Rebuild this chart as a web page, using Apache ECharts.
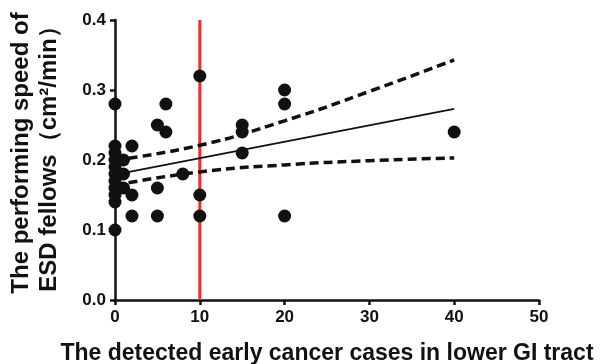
<!DOCTYPE html>
<html>
<head>
<meta charset="utf-8">
<script src="https://cdn.jsdelivr.net/npm/echarts@6/dist/echarts.min.js"></script>
<style>
  html, body { margin: 0; padding: 0; background: #fff; }
  #chart { width: 600px; height: 364px; }
</style>
</head>
<body>
<div id="chart"></div>
<script>
// detected early cancer cases (x) vs performing speed (y)
var casesX = [0, 0, 0, 0, 0, 0, 0, 0, 0, 0, 0,
              1, 1, 1, 2, 2, 2, 5, 5, 5, 6, 6, 8,
              10, 10, 10, 15, 15, 15, 20, 20, 20, 40];
var speedY = [0.28, 0.22, 0.21, 0.20, 0.19, 0.18, 0.17, 0.16, 0.15, 0.14, 0.10,
              0.20, 0.18, 0.16, 0.22, 0.15, 0.12, 0.25, 0.16, 0.12, 0.28, 0.24, 0.18,
              0.32, 0.15, 0.12, 0.25, 0.24, 0.21, 0.30, 0.28, 0.12, 0.24];

// regression fit and 95% confidence band
var fitX = [0, 40];
var fitY = [0.179, 0.273];
var bandX = [0, 10, 20, 30, 40];
var upperY = [0.200, 0.221, 0.256, 0.298, 0.343];
var lowerY = [0.164, 0.183, 0.193, 0.199, 0.203];

// cutoff line
var cutX = 10;
var cutY = [0, 0.4];

function pairs(xs, ys) {
    return xs.map(function (x, i) { return [x, ys[i]]; });
}

var font = 'Arial, "Liberation Sans", sans-serif';
var chart = echarts.init(document.getElementById('chart'));

var option = {
    animation: false,
    grid: { left: 115, right: 61, top: 20, bottom: 64, containLabel: false, outerBoundsMode: 'none' },
    xAxis: {
        type: 'value',
        min: 0, max: 50, interval: 10,
        name: 'The detected early cancer cases in lower GI tract',
        nameLocation: 'middle',
        nameGap: 42,
        nameTextStyle: { color: '#111', fontSize: 23, fontWeight: 'bold', fontFamily: font },
        axisLine: { lineStyle: { color: '#111', width: 2.5 } },
        axisTick: { length: 5, lineStyle: { color: '#111', width: 2.5 } },
        axisLabel: { color: '#111', fontSize: 17, fontWeight: 'bold', fontFamily: font, margin: 9 },
        splitLine: { show: false }
    },
    yAxis: {
        type: 'value',
        min: 0, max: 0.4, interval: 0.1,
        name: 'The performing speed of\nESD fellows（cm²/min）',
        nameLocation: 'middle',
        nameGap: 52,
        nameTextStyle: {
            color: '#111', fontSize: 24, fontWeight: 'bold', fontFamily: font, lineHeight: 28,
            padding: [0, 0, 0, 14]
        },
        axisLine: { show: true, lineStyle: { color: '#111', width: 2.5 } },
        axisTick: { show: true, length: 5, lineStyle: { color: '#111', width: 2.5 } },
        axisLabel: {
            color: '#111', fontSize: 17, fontWeight: 'bold', fontFamily: font, margin: 9,
            formatter: function (v) { return v.toFixed(1); }
        },
        splitLine: { show: false }
    },
    series: [
        {
            type: 'line',
            data: pairs([cutX, cutX], cutY),
            symbol: 'none',
            lineStyle: { color: '#e8302c', width: 3 },
            z: 1
        },
        {
            type: 'line',
            data: pairs(fitX, fitY),
            symbol: 'none',
            lineStyle: { color: '#111', width: 1.8 },
            z: 2
        },
        {
            type: 'line',
            data: pairs(bandX, upperY),
            symbol: 'none',
            smooth: true,
            lineStyle: { color: '#111', width: 3.5, type: [9, 5] },
            z: 2
        },
        {
            type: 'line',
            data: pairs(bandX, lowerY),
            symbol: 'none',
            smooth: true,
            lineStyle: { color: '#111', width: 3.5, type: [9, 5] },
            z: 2
        },
        {
            type: 'scatter',
            data: pairs(casesX, speedY),
            symbol: 'circle',
            symbolSize: 13,
            itemStyle: { color: '#111', opacity: 1 },
            z: 3
        }
    ]
};
chart.setOption(option);
</script>
</body>
</html>
